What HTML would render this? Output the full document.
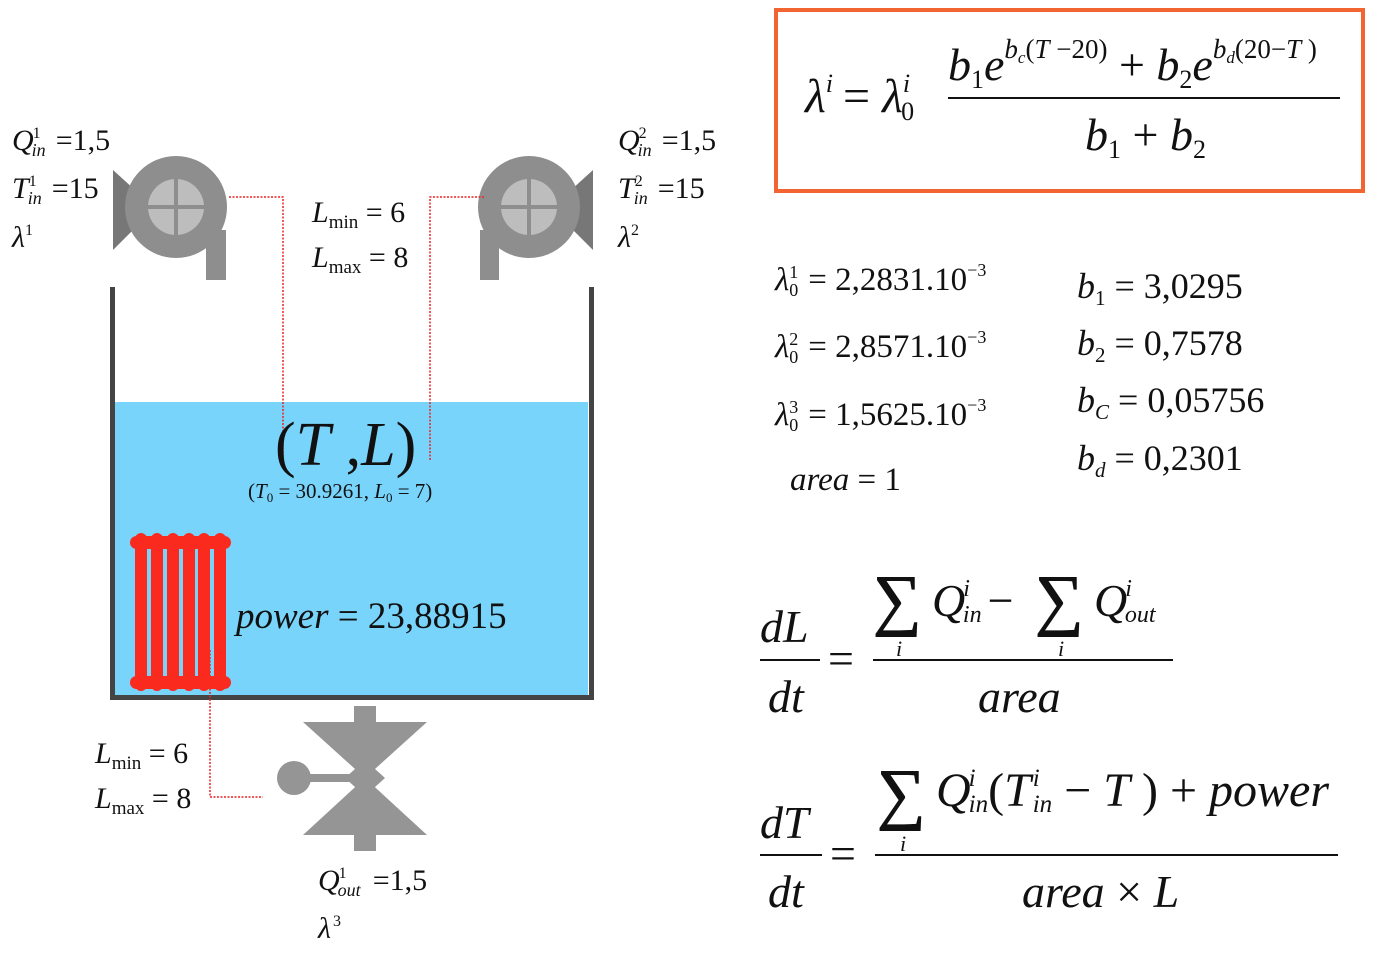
<!DOCTYPE html>
<html><head><meta charset="utf-8"><style>
html,body{margin:0;padding:0;background:#fff;}
svg{display:block;}
text{font-family:"Liberation Serif",serif;fill:#111;}
.i{font-style:italic;}
</style></head><body>
<svg width="1376" height="964" viewBox="0 0 1376 964" xmlns="http://www.w3.org/2000/svg">
<rect x="115" y="402" width="473" height="294" fill="#79d4fc"/>
<path d="M112.5 287 V697.5 H591.5 V287" fill="none" stroke="#444" stroke-width="5"/>
<polygon points="113,170 135,190 135,228 113,250" fill="#777"/>
<rect x="206" y="230" width="20" height="50" fill="#8e8e8e"/>
<circle cx="176" cy="207" r="51" fill="#8e8e8e"/>
<circle cx="176" cy="207" r="28" fill="#bdbdbd"/>
<rect x="148" y="205" width="56" height="4" fill="#8e8e8e"/>
<rect x="174" y="179" width="4" height="56" fill="#8e8e8e"/>
<polygon points="593,170 571,190 571,228 593,250" fill="#777"/>
<rect x="480" y="230" width="19" height="50" fill="#8e8e8e"/>
<circle cx="529" cy="207" r="51" fill="#8e8e8e"/>
<circle cx="529" cy="207" r="28" fill="#bdbdbd"/>
<rect x="501" y="205" width="56" height="4" fill="#8e8e8e"/>
<rect x="527" y="179" width="4" height="56" fill="#8e8e8e"/>
<g fill="none" stroke="#e22" stroke-width="1.5" stroke-dasharray="2,1.5">
<path d="M229 197 H283 V460"/>
<path d="M484 197 H430 V460"/>
<path d="M210 650 V797 H263"/>
</g>
<g fill="#fb2a1f">
<rect x="135" y="533" width="12" height="158" rx="6"/>
<rect x="151" y="533" width="12" height="158" rx="6"/>
<rect x="167" y="533" width="12" height="158" rx="6"/>
<rect x="183" y="533" width="12" height="158" rx="6"/>
<rect x="198" y="533" width="12" height="158" rx="6"/>
<rect x="214" y="533" width="12" height="158" rx="6"/>
<rect x="130" y="536" width="101" height="13" rx="6.5"/>
<rect x="130" y="676" width="101" height="13" rx="6.5"/>
</g>
<g fill="#959595">
<rect x="354" y="706" width="22" height="18" />
<rect x="354" y="832" width="22" height="19" />
<polygon points="303,722 427,722 365,778"/>
<polygon points="303,835 427,835 365,778"/>
<polygon points="345,778 365,760 385,778 365,796"/>
<circle cx="294" cy="778" r="17"/>
<rect x="294" y="774" width="56" height="8"/>
</g>
<g font-size="30">
<text x="12" y="150"><tspan class="i">Q</tspan><tspan font-size="16" dy="-12" dx="-1">1</tspan><tspan class="i" font-size="18" dy="18" dx="-9">in</tspan><tspan dy="-6" dx="10">=1,5</tspan></text>
<text x="12" y="198"><tspan class="i">T</tspan><tspan font-size="16" dy="-12" dx="0">1</tspan><tspan class="i" font-size="18" dy="18" dx="-9">in</tspan><tspan dy="-6" dx="10">=15</tspan></text>
<text x="12" y="247"><tspan class="i">λ</tspan><tspan font-size="16" dy="-12">1</tspan></text>
<text x="618" y="150"><tspan class="i">Q</tspan><tspan font-size="16" dy="-12" dx="-1">2</tspan><tspan class="i" font-size="18" dy="18" dx="-9">in</tspan><tspan dy="-6" dx="10">=1,5</tspan></text>
<text x="618" y="198"><tspan class="i">T</tspan><tspan font-size="16" dy="-12" dx="0">2</tspan><tspan class="i" font-size="18" dy="18" dx="-9">in</tspan><tspan dy="-6" dx="10">=15</tspan></text>
<text x="618" y="247"><tspan class="i">λ</tspan><tspan font-size="16" dy="-12">2</tspan></text>
<text x="312" y="222"><tspan class="i">L</tspan><tspan font-size="19" dy="6">min</tspan><tspan dy="-6"> = 6</tspan></text>
<text x="312" y="267"><tspan class="i">L</tspan><tspan font-size="19" dy="6">max</tspan><tspan dy="-6"> = 8</tspan></text>
<text x="95" y="763"><tspan class="i">L</tspan><tspan font-size="19" dy="6">min</tspan><tspan dy="-6"> = 6</tspan></text>
<text x="95" y="808"><tspan class="i">L</tspan><tspan font-size="19" dy="6">max</tspan><tspan dy="-6"> = 8</tspan></text>
<text x="318" y="890"><tspan class="i">Q</tspan><tspan font-size="16" dy="-12" dx="-1">1</tspan><tspan class="i" font-size="18" dy="18" dx="-9">out</tspan><tspan dy="-6" dx="12">=1,5</tspan></text>
<text x="318" y="938"><tspan class="i">λ</tspan><tspan font-size="16" dy="-12" dx="2">3</tspan></text>
</g>
<text x="275" y="465" font-size="62">(<tspan class="i">T</tspan> ,<tspan class="i">L</tspan>)</text>
<text x="248" y="498" font-size="21">(<tspan class="i">T</tspan><tspan font-size="13" dy="4">0</tspan><tspan dy="-4"> = 30.9261, </tspan><tspan class="i">L</tspan><tspan font-size="13" dy="4">0</tspan><tspan dy="-4"> = 7)</tspan></text>
<text x="236" y="628" font-size="37"><tspan class="i">power</tspan> = 23,88915</text>
<rect x="776" y="10" width="587" height="181" fill="none" stroke="#f26532" stroke-width="4"/>
<text x="805" y="112" font-size="48"><tspan class="i">λ</tspan><tspan class="i" font-size="26" dy="-20">i</tspan><tspan dy="20" dx="10">= </tspan><tspan class="i">λ</tspan><tspan class="i" font-size="26" dy="-20">i</tspan><tspan font-size="26" dy="28" dx="-9">0</tspan></text>
<text x="948" y="80" font-size="46"><tspan class="i">b</tspan><tspan font-size="26" dy="8">1</tspan><tspan class="i" dy="-8">e</tspan><tspan font-size="27" dy="-22"><tspan class="i">b</tspan><tspan class="i" font-size="17" dy="5">c</tspan><tspan dy="-5">(</tspan><tspan class="i">T</tspan> −20)</tspan><tspan dy="22"> + </tspan><tspan class="i">b</tspan><tspan font-size="26" dy="8">2</tspan><tspan class="i" dy="-8">e</tspan><tspan font-size="27" dy="-22"><tspan class="i">b</tspan><tspan class="i" font-size="17" dy="5">d</tspan><tspan dy="-5">(20−</tspan><tspan class="i">T</tspan> )</tspan></text>
<rect x="948" y="97" width="392" height="2" fill="#111"/>
<text x="1085" y="150" font-size="46"><tspan class="i">b</tspan><tspan font-size="26" dy="8">1</tspan><tspan dy="-8"> + </tspan><tspan class="i">b</tspan><tspan font-size="26" dy="8">2</tspan></text>
<g font-size="33">
<text x="775" y="290"><tspan class="i">λ</tspan><tspan font-size="18" dy="-12">1</tspan><tspan font-size="18" dy="18" dx="-9">0</tspan><tspan dy="-6" dx="10">= 2,2831.10</tspan><tspan font-size="18" dy="-14">−3</tspan></text>
<text x="775" y="357"><tspan class="i">λ</tspan><tspan font-size="18" dy="-12">2</tspan><tspan font-size="18" dy="18" dx="-9">0</tspan><tspan dy="-6" dx="10">= 2,8571.10</tspan><tspan font-size="18" dy="-14">−3</tspan></text>
<text x="775" y="425"><tspan class="i">λ</tspan><tspan font-size="18" dy="-12">3</tspan><tspan font-size="18" dy="18" dx="-9">0</tspan><tspan dy="-6" dx="10">= 1,5625.10</tspan><tspan font-size="18" dy="-14">−3</tspan></text>
<text x="790" y="490"><tspan class="i">area</tspan> = 1</text>
</g>
<g font-size="36">
<text x="1077" y="298"><tspan class="i">b</tspan><tspan font-size="21" dy="7">1</tspan><tspan dy="-7"> = 3,0295</tspan></text>
<text x="1077" y="355"><tspan class="i">b</tspan><tspan font-size="21" dy="7">2</tspan><tspan dy="-7"> = 0,7578</tspan></text>
<text x="1077" y="412"><tspan class="i">b</tspan><tspan class="i" font-size="21" dy="7">C</tspan><tspan dy="-7"> = 0,05756</tspan></text>
<text x="1077" y="470"><tspan class="i">b</tspan><tspan class="i" font-size="21" dy="7">d</tspan><tspan dy="-7"> = 0,2301</tspan></text>
</g>
<g font-size="46">
<text x="760" y="642" class="i">dL</text>
<rect x="760" y="659" width="60" height="2" fill="#111"/>
<text x="768" y="712" class="i">dt</text>
<text x="828" y="674">=</text>
<text x="873" y="622" font-size="68" stroke="#111" stroke-width="1">∑</text>
<text x="896" y="656" font-size="22" class="i">i</text>
<text x="932" y="616"><tspan class="i">Q</tspan><tspan class="i" font-size="24" dy="-20" dx="-2">i</tspan><tspan class="i" font-size="24" dy="26" dx="-7">in</tspan><tspan dy="-6" dx="6">−</tspan></text>
<text x="1035" y="622" font-size="68" stroke="#111" stroke-width="1">∑</text>
<text x="1058" y="656" font-size="22" class="i">i</text>
<text x="1094" y="616"><tspan class="i">Q</tspan><tspan class="i" font-size="24" dy="-20" dx="-2">i</tspan><tspan class="i" font-size="24" dy="26" dx="-7">out</tspan></text>
<rect x="873" y="659" width="300" height="2" fill="#111"/>
<text x="978" y="712" class="i">area</text>
</g>
<g font-size="46">
<text x="760" y="838" class="i">dT</text>
<rect x="760" y="854" width="62" height="2" fill="#111"/>
<text x="768" y="907" class="i">dt</text>
<text x="830" y="869">=</text>
<text x="877" y="816" font-size="68" stroke="#111" stroke-width="1">∑</text>
<text x="900" y="851" font-size="22" class="i">i</text>
<text x="936" y="806" font-size="48"><tspan class="i">Q</tspan><tspan class="i" font-size="25" dy="-20" dx="-2">i</tspan><tspan class="i" font-size="25" dy="26" dx="-7">in</tspan><tspan dy="-6">(</tspan><tspan class="i">T</tspan><tspan class="i" font-size="25" dy="-20" dx="2">i</tspan><tspan class="i" font-size="25" dy="26" dx="-7">in</tspan><tspan dy="-6"> − </tspan><tspan class="i">T</tspan> ) + <tspan class="i">power</tspan></text>
<rect x="875" y="854" width="463" height="2" fill="#111"/>
<text x="1022" y="907"><tspan class="i">area</tspan> × <tspan class="i">L</tspan></text>
</g>
</svg>
</body></html>
